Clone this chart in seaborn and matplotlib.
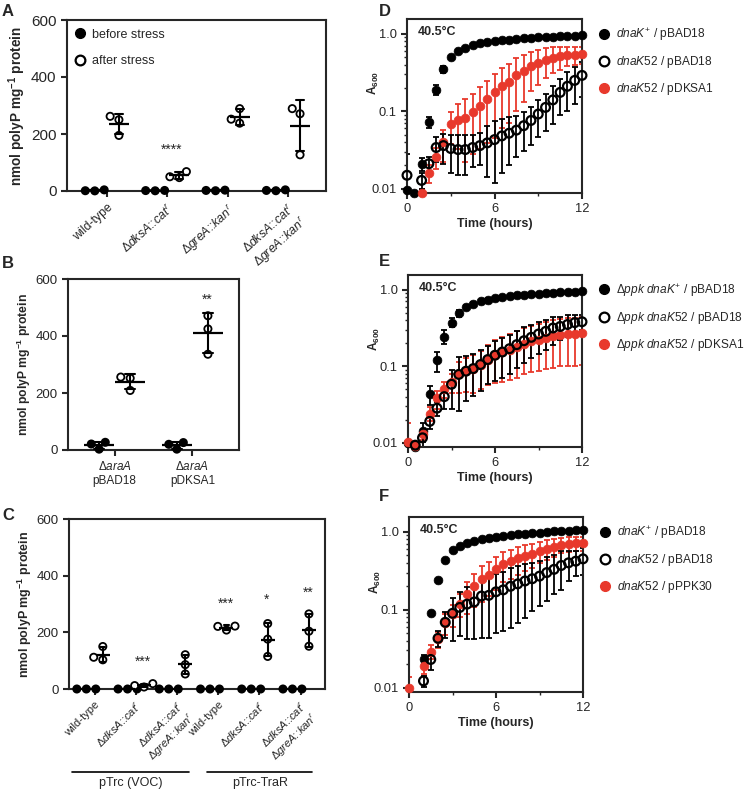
import numpy as np
import pandas as pd
import seaborn as sns
import matplotlib.pyplot as plt
from matplotlib.lines import Line2D

nan = np.nan

# ---------------- panel A : polyP after heat stress ----------------
a_keys = ["wt", "dksA", "greA", "dksA_greA"]
a_labels = ["wild-type",
            r"Δ$\it{dksA}$::$\it{cat}^{r}$",
            r"Δ$\it{greA}$::$\it{kan}^{r}$",
            "Δ$\\it{dksA}$::$\\it{cat}^{r}$\nΔ$\\it{greA}$::$\\it{kan}^{r}$"]
a_before = [[1, 4, 0.5], [0.8, 2, 1.5], [3, 1, 2], [2, 4, 1]]
a_after = [[262, 250, 195], [47, 68, 50], [238, 289, 252], [271, 289, 127]]
a_stars = [("****", 1, 156)]

# ---------------- panel B ----------------
b_keys = ["pBAD18", "pDKSA1"]
b_labels = [r"Δ$\it{araA}$" + "\npBAD18", r"Δ$\it{araA}$" + "\npDKSA1"]
b_before = [[3, 27, 21], [3, 26, 20]]
b_after = [[252, 256, 209], [471, 425, 336]]
b_stars = [("**", 1, 539)]

# ---------------- panel C ----------------
c_keys = ["voc_wt", "voc_dksA", "voc_dg", "trar_wt", "trar_dksA", "trar_dg"]
c_labels = ["wild-type",
            r"Δ$\it{dksA}$::$\it{cat}^{r}$",
            "Δ$\\it{dksA}$::$\\it{cat}^{r}$\nΔ$\\it{greA}$::$\\it{kan}^{r}$"] * 2
c_before = [[0, 0, 0]] * 6
c_after = [[103, 112, 150], [12, 19, 7], [53, 86, 121],
           [208, 221, 222], [231, 176, 115], [265, 204, 151]]
c_stars = [("***", 1, 109), ("***", 3, 315), ("*", 4, 327), ("**", 5, 353)]
c_groups = ["pTrc (VOC)", "pTrc-TraR"]

# ---------------- growth curves D-F (A600, 40.5 C) ----------------
hours = [0, 0.5, 1, 1.5, 2, 2.5, 3, 3.5, 4, 4.5, 5, 5.5, 6, 6.5, 7, 7.5,
         8, 8.5, 9, 9.5, 10, 10.5, 11, 11.5, 12]

d_black = [0.0095, 0.0088, 0.021, 0.072, 0.19, 0.35, 0.50, 0.60, 0.66, 0.71, 0.75, 0.78, 0.80,
           0.82, 0.84, 0.86, 0.87, 0.88, 0.90, 0.91, 0.92, 0.93, 0.93, 0.94, 0.95]
d_black_sd = [0, 0, 0.004, 0.012, 0.03, 0.035, 0.02, 0.012, 0.01, 0.01, 0.01, 0.01, 0.01,
              0.01, 0.01, 0.01, 0.01, 0.01, 0.01, 0.01, 0.01, 0.01, 0.01, 0.01, 0.01]
d_open = [0.0149, nan, 0.0128, 0.021, 0.034, 0.036, 0.033, 0.032, 0.032, 0.034, 0.036, 0.039,
          0.043, 0.048, 0.052, 0.057, 0.065, 0.076, 0.092, 0.112, 0.14, 0.175, 0.21, 0.25, 0.29]
d_open_sd = [0.013, nan, 0.003, 0.005, 0.012, 0.015, 0.017, 0.017, 0.017, 0.015, 0.016, 0.025,
             0.031, 0.032, 0.032, 0.031, 0.034, 0.039, 0.046, 0.057, 0.071, 0.085, 0.108, 0.126, 0.136]
d_red = [nan, nan, 0.0088, 0.016, 0.026, 0.04, 0.068, 0.078, 0.082, 0.098, 0.118, 0.144, 0.175,
         0.21, 0.24, 0.29, 0.33, 0.385, 0.42, 0.46, 0.49, 0.51, 0.53, 0.535, 0.54]
d_red_sd = [nan, nan, 0.001, 0.004, 0.008, 0.018, 0.03, 0.045, 0.06, 0.07, 0.085, 0.105, 0.13,
            0.15, 0.17, 0.19, 0.2, 0.2, 0.2, 0.19, 0.18, 0.17, 0.15, 0.14, 0.13]

e_black = [0.01, 0.0088, 0.0141, 0.043, 0.119, 0.243, 0.37, 0.49, 0.59, 0.65, 0.71, 0.74, 0.78,
           0.80, 0.83, 0.84, 0.86, 0.87, 0.88, 0.90, 0.91, 0.92, 0.93, 0.94, 0.95]
e_black_sd = [0, 0, 0.004, 0.012, 0.035, 0.05, 0.05, 0.05, 0.04, 0.03, 0.03, 0.025, 0.025,
              0.02, 0.02, 0.02, 0.02, 0.02, 0.02, 0.02, 0.02, 0.02, 0.02, 0.02, 0.02]
e_open = [nan, 0.0093, 0.0116, 0.019, 0.0283, 0.04, 0.058, 0.078, 0.086, 0.093, 0.105, 0.122,
          0.139, 0.153, 0.169, 0.191, 0.215, 0.238, 0.263, 0.285, 0.315, 0.33, 0.35, 0.37, 0.38]
e_open_sd = [nan, 0.001, 0.003, 0.004, 0.006, 0.012, 0.03, 0.052, 0.051, 0.052, 0.057, 0.064,
             0.075, 0.083, 0.089, 0.096, 0.105, 0.11, 0.118, 0.12, 0.125, 0.11, 0.11, 0.10, 0.08]
e_red = [0.0102, 0.0092, 0.013, 0.024, 0.038, 0.05, 0.062, 0.078, 0.086, 0.093, 0.105, 0.122,
         0.139, 0.152, 0.165, 0.18, 0.195, 0.21, 0.22, 0.235, 0.245, 0.255, 0.26, 0.265, 0.27]
e_red_sd = [0.008, 0.001, 0.002, 0.005, 0.01, 0.012, 0.018, 0.034, 0.04, 0.048, 0.055, 0.065,
            0.078, 0.09, 0.1, 0.11, 0.117, 0.125, 0.134, 0.142, 0.15, 0.155, 0.16, 0.165, 0.167]

f_black = [nan, nan, 0.023, 0.091, 0.24, 0.43, 0.59, 0.66, 0.72, 0.77, 0.80, 0.84, 0.86,
           0.89, 0.91, 0.935, 0.95, 0.97, 0.98, 1.0, 1.02, 1.03, 1.04, 1.05, 1.06]
f_black_sd = [nan, nan, 0.003, 0, 0, 0, 0, 0, 0, 0, 0, 0, 0,
              0, 0, 0, 0, 0, 0, 0, 0, 0, 0, 0, 0]
f_open = [nan, nan, 0.0122, 0.023, 0.043, 0.069, 0.09, 0.107, 0.118, 0.126, 0.15, 0.153,
          0.17, 0.18, 0.2, 0.215, 0.234, 0.25, 0.27, 0.3, 0.33, 0.37, 0.4, 0.42, 0.45]
f_open_sd = [nan, nan, 0.002, 0.006, 0.01, 0.025, 0.05, 0.061, 0.076, 0.084, 0.107, 0.109,
             0.12, 0.126, 0.142, 0.147, 0.155, 0.154, 0.158, 0.171, 0.173, 0.19, 0.167, 0.15, 0.17]
f_red = [0.0098, nan, 0.0188, 0.029, 0.042, 0.068, 0.088, 0.12, 0.158, 0.2, 0.245, 0.28,
         0.33, 0.39, 0.42, 0.46, 0.49, 0.52, 0.57, 0.61, 0.64, 0.68, 0.70, 0.71, 0.72]
f_red_sd = [0.004, nan, 0.004, 0.006, 0.01, 0.02, 0.028, 0.04, 0.07, 0.09, 0.12, 0.13,
            0.15, 0.16, 0.17, 0.18, 0.18, 0.18, 0.17, 0.17, 0.16, 0.15, 0.15, 0.15, 0.15]

d_legend = [r"$\it{dnaK}^{+}$ / pBAD18", r"$\it{dnaK52}$ / pBAD18", r"$\it{dnaK52}$ / pDKSA1"]
e_legend = [r"Δ$\it{ppk}$ $\it{dnaK}^{+}$ / pBAD18", r"Δ$\it{ppk}$ $\it{dnaK52}$ / pBAD18",
            r"Δ$\it{ppk}$ $\it{dnaK52}$ / pDKSA1"]
f_legend = [r"$\it{dnaK}^{+}$ / pBAD18", r"$\it{dnaK52}$ / pBAD18", r"$\it{dnaK52}$ / pPPK30"]

RED = "#e8392c"

# --------------------------------------------------
# style
# --------------------------------------------------
sns.set_style("ticks")
plt.rcParams["font.family"] = ["Liberation Sans", "DejaVu Sans"]
plt.rcParams["mathtext.fontset"] = "custom"
plt.rcParams["mathtext.rm"] = "Liberation Sans"
plt.rcParams["mathtext.it"] = "Liberation Sans:italic"
plt.rcParams["mathtext.bf"] = "Liberation Sans:bold"
plt.rcParams["axes.linewidth"] = 1.5
plt.rcParams["xtick.direction"] = "out"
plt.rcParams["ytick.direction"] = "out"

W, H = 750, 791
fig = plt.figure(figsize=(W / 100, H / 100), dpi=100)


def rect(l, t, r, b):
    return [l / W, 1 - b / H, (r - l) / W, (b - t) / H]


def dot_panel(ax, keys, before, after, mean_w, tick_fs):
    rows = []
    for k, bv, av in zip(keys, before, after):
        rows += [(k, "before", v) for v in bv]
        rows += [(k, "after", v) for v in av]
    df = pd.DataFrame(rows, columns=["strain", "cond", "value"])
    hue_order = ["before", "after"]
    sns.swarmplot(data=df, x="strain", y="value", hue="cond", order=keys,
                  hue_order=hue_order, dodge=True,
                  palette={"before": "black", "after": "white"},
                  size=5.2, edgecolor="black", linewidth=1.3, legend=False,
                  clip_on=False, zorder=3, ax=ax)
    sns.pointplot(data=df, x="strain", y="value", hue="cond", order=keys,
                  hue_order=hue_order, dodge=0.4, errorbar="sd", capsize=0.13,
                  palette={"before": "black", "after": "black"},
                  marker="_", markersize=mean_w, markeredgewidth=1.6,
                  linestyle="none", err_kws={"linewidth": 1.5},
                  legend=False, zorder=4, ax=ax)
    ax.set_ylim(0, 600)
    ax.set_yticks([0, 200, 400, 600])
    ax.set_xlabel("")
    ax.set_ylabel("nmol polyP mg$^{\\mathbf{-1}}$ protein", fontweight="bold",
                  fontsize=9, labelpad=2)
    ax.tick_params(axis="both", width=1.5, length=4, labelsize=tick_fs)


def add_stars(ax, stars, fs=10):
    for txt, pos, val in stars:
        ax.annotate(txt, (pos, val), xytext=(0, -5.5), textcoords="offset points",
                    ha="center", va="baseline", fontsize=fs)


# ---- A ----
axA = fig.add_axes(rect(67, 20, 326, 191))
dot_panel(axA, a_keys, a_before, a_after, 14, 11)
axA.set_xlim(-0.66, 3.63)
axA.set_xticks(range(len(a_keys)))
axA.set_xticklabels(a_labels, rotation=42, ha="right", rotation_mode="anchor", fontsize=8.8)
axA.yaxis.label.set_fontsize(9.8)
add_stars(axA, [(s, p + 0.07, v) for s, p, v in a_stars])
legA = [Line2D([], [], marker="o", color="black", linestyle="none", markersize=7),
        Line2D([], [], marker="o", color="black", mfc="white", mew=1.6,
               linestyle="none", markersize=7)]
axA.legend(legA, ["before stress", "after stress"], loc="upper left",
           bbox_to_anchor=(0.025, 0.95), frameon=False, fontsize=9,
           handlelength=1.0, handletextpad=0.5, labelspacing=1.15,
           borderaxespad=0, borderpad=0)

# ---- B ----
axB = fig.add_axes(rect(68, 279, 239, 450))
dot_panel(axB, b_keys, b_before, b_after, 22, 9.5)
axB.set_xlim(-0.6, 1.6)
axB.set_xticks(range(len(b_keys)))
axB.set_xticklabels(b_labels, fontsize=8.5)
axB.yaxis.label.set_fontsize(8.7)
add_stars(axB, [(s, p + 0.19, v) for s, p, v in b_stars])

# ---- C ----
axC = fig.add_axes(rect(69, 519, 325, 689))
dot_panel(axC, c_keys, c_before, c_after, 10, 9.5)
axC.set_xlim(-0.62, 5.59)
axC.set_xticks(range(len(c_keys)))
axC.set_xticklabels(c_labels, rotation=45, ha="right", rotation_mode="anchor", fontsize=8)
add_stars(axC, [(s, p + 0.18, v) for s, p, v in c_stars])
for (x0, x1), name in zip([(0.012, 0.47), (0.54, 0.95)], c_groups):
    axC.plot([x0, x1], [-0.49, -0.49], transform=axC.transAxes, color="black",
             linewidth=1.2, clip_on=False)
    axC.text((x0 + x1) / 2, -0.555, name, transform=axC.transAxes,
             ha="center", va="center", fontsize=9)


# ---- D-F ----
def growth_panel(ax, black, black_sd, opn, opn_sd, red, red_sd, labels):
    ax.errorbar(hours, black, yerr=black_sd, fmt="none", ecolor="black",
                elinewidth=1.3, capsize=2.5, capthick=1.3)
    sns.scatterplot(x=hours, y=black, color="black", s=40, edgecolor="black",
                    linewidth=0.5, clip_on=False, zorder=3, ax=ax)
    ax.errorbar(hours, red, yerr=red_sd, fmt="none", ecolor=RED,
                elinewidth=1.3, capsize=2.5, capthick=1.3)
    ax.errorbar(hours, opn, yerr=opn_sd, fmt="none", ecolor="black",
                elinewidth=1.3, capsize=2.5, capthick=1.3)
    sns.scatterplot(x=hours, y=red, color=RED, s=40, edgecolor=RED,
                    linewidth=0.5, clip_on=False, zorder=4, ax=ax)
    sns.scatterplot(x=hours, y=opn, color="white", s=40, edgecolor="black",
                    linewidth=1.6, clip_on=False, zorder=5, ax=ax)
    ax.collections[-1].set_facecolor("none")
    ax.set_yscale("log")
    ax.set_ylim(0.0088, 1.55)
    ax.set_xlim(0, 12)
    ax.set_yticks([0.01, 0.1, 1.0])
    ax.set_yticklabels(["0.01", "0.1", "1.0"])
    ax.set_xticks([0, 6, 12])
    ax.set_xticks([3, 9], minor=True)
    ax.tick_params(axis="both", which="major", width=1.5, length=4, labelsize=9.3)
    ax.tick_params(axis="both", which="minor", width=1.0, length=2.5)
    ax.set_xlabel("Time (hours)", fontweight="bold", fontsize=9, labelpad=2)
    ax.set_ylabel(r"A$_{\mathbf{600}}$", fontweight="bold", fontsize=8.5)
    ax.yaxis.set_label_coords(-0.15, 0.63)
    ax.text(0.06, 0.925, "40.5°C", transform=ax.transAxes, fontweight="bold",
            fontsize=9, va="center", ha="left")
    handles = [Line2D([], [], marker="o", color="black", linestyle="none", markersize=7),
               Line2D([], [], marker="o", color="black", mfc="white", mew=1.6,
                      linestyle="none", markersize=7),
               Line2D([], [], marker="o", color=RED, linestyle="none", markersize=7)]
    ax.legend(handles, labels, loc="upper left", bbox_to_anchor=(1.09, 0.96),
              frameon=False, fontsize=8.6, handlelength=1.0, handletextpad=0.55,
              labelspacing=0.95, borderaxespad=0, borderpad=0)


axD = fig.add_axes(rect(407, 19, 582, 193))
growth_panel(axD, d_black, d_black_sd, d_open, d_open_sd, d_red, d_red_sd, d_legend)
axE = fig.add_axes(rect(408, 275, 582, 447))
growth_panel(axE, e_black, e_black_sd, e_open, e_open_sd, e_red, e_red_sd, e_legend)
axF = fig.add_axes(rect(409, 517, 583, 692))
growth_panel(axF, f_black, f_black_sd, f_open, f_open_sd, f_red, f_red_sd, f_legend)

# panel letters
for letter, x, y in [("A", 2, 12), ("B", 2, 263), ("C", 2, 516),
                     ("D", 379, 11), ("E", 379, 262), ("F", 379, 496)]:
    fig.text(x / W, 1 - y / H, letter, fontsize=12, fontweight="bold",
             ha="left", va="center")

fig.savefig("out.png", dpi=100)
plt.close(fig)
